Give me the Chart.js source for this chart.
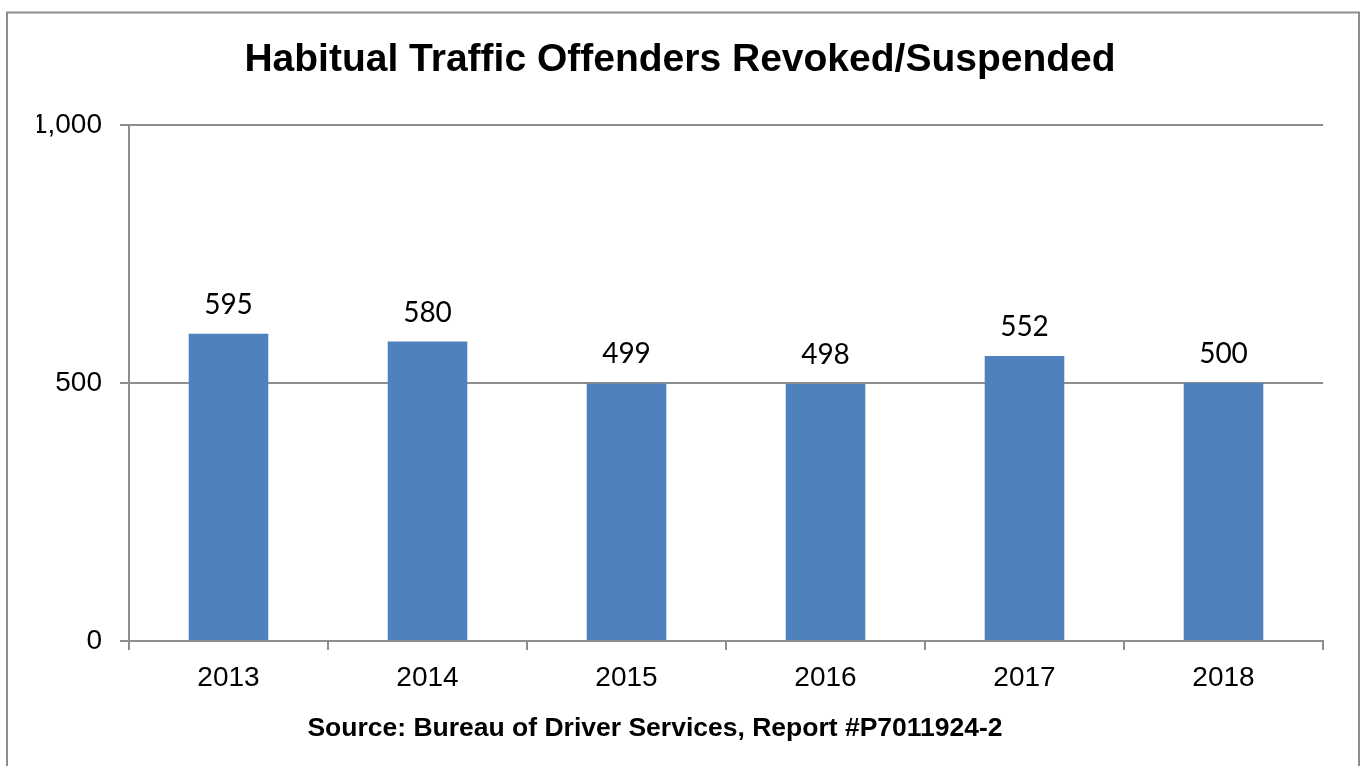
<!DOCTYPE html>
<html lang="en">
<head>
    <meta charset="UTF-8">
    <title>Habitual Traffic Offenders Revoked/Suspended</title>
    <script src="https://cdn.jsdelivr.net/npm/chart.js"></script>
    <style>
        body { margin: 0; background: #fff; }
        #wrap { width: 1365px; height: 766px; position: relative; }
    </style>
</head>
<body>
    <div id="wrap"><canvas id="htoChart"></canvas></div>

    <script>
        // data
        const years = ['2013', '2014', '2015', '2016', '2017', '2018'];
        const offenders = [595, 580, 499, 498, 552, 500];
        const yTickValues = [0, 500, 1000];

        const chartTitle = 'Habitual Traffic Offenders Revoked/Suspended';
        const sourceNote = 'Source: Bureau of Driver Services, Report #P7011924-2';

        const lineGrey = '#8e8e8e';
        const arial = 'Arial, "Liberation Sans", sans-serif';

        // outer frame around the whole chart (bottom runs off the page)
        const framePlugin = {
            id: 'frame',
            beforeDraw(chart) {
                const ctx = chart.ctx;
                ctx.save();
                ctx.strokeStyle = lineGrey;
                ctx.lineWidth = 2;
                ctx.strokeRect(7, 12.5, 1352, 800);
                ctx.restore();
            }
        };

        // source line under the axis, sits a bit left of the title centre
        const sourcePlugin = {
            id: 'sourceNote',
            afterDraw(chart) {
                const ctx = chart.ctx;
                ctx.save();
                ctx.font = 'bold 26.5px ' + arial;
                ctx.fillStyle = '#000';
                ctx.textAlign = 'center';
                ctx.textBaseline = 'middle';
                ctx.fillText(sourceNote, 655, 729);
                ctx.restore();
            }
        };

        // value labels above the bars
        const valueLabels = {
            id: 'valueLabels',
            afterDatasetsDraw(chart) {
                const ctx = chart.ctx;
                const meta = chart.getDatasetMeta(0);
                ctx.save();
                ctx.font = '28px Lato, "Open Sans", sans-serif';
                ctx.fillStyle = '#000';
                ctx.textAlign = 'center';
                ctx.textBaseline = 'alphabetic';
                meta.data.forEach((bar, i) => {
                    ctx.fillText(String(offenders[i]), bar.x, bar.y - 20);
                });
                ctx.restore();
            }
        };

        const ctx = document.getElementById('htoChart').getContext('2d');
        new Chart(ctx, {
            type: 'bar',
            data: {
                labels: years,
                datasets: [{
                    label: 'Revoked/Suspended',
                    data: offenders,
                    backgroundColor: '#4f81bd',
                    borderWidth: 0,
                    categoryPercentage: 1.0,
                    barPercentage: 0.4
                }]
            },
            options: {
                responsive: true,
                maintainAspectRatio: false,
                animation: false,
                layout: { padding: { left: 37, right: 42, top: 0, bottom: 0 } },
                plugins: {
                    legend: { display: false },
                    tooltip: { enabled: false },
                    title: {
                        display: true,
                        text: chartTitle,
                        color: '#000',
                        font: { family: arial, size: 39, weight: 'bold' },
                        padding: { top: 37, bottom: 41 }
                    }
                },
                scales: {
                    x: {
                        grid: {
                            offset: true,
                            drawOnChartArea: false,
                            drawTicks: true,
                            tickLength: 9,
                            color: lineGrey,
                            lineWidth: 2
                        },
                        border: { display: true, color: lineGrey, width: 2 },
                        ticks: {
                            color: '#000',
                            padding: 11,
                            font: { family: arial, size: 28 }
                        },
                        afterFit(scale) { scale.height = 125; }
                    },
                    y: {
                        min: 0,
                        max: 1000,
                        afterBuildTicks(scale) {
                            scale.ticks = yTickValues.map(v => ({ value: v }));
                        },
                        grid: {
                            color: lineGrey,
                            lineWidth: 2,
                            tickLength: 9
                        },
                        border: { display: true, color: lineGrey, width: 2 },
                        ticks: {
                            color: '#000',
                            padding: 18,
                            font: { family: arial, size: 28 },
                            callback: v => v.toLocaleString('en-US')
                        },
                        afterFit(scale) { scale.width = 92; }
                    }
                }
            },
            plugins: [framePlugin, sourcePlugin, valueLabels]
        });
    </script>
</body>
</html>
